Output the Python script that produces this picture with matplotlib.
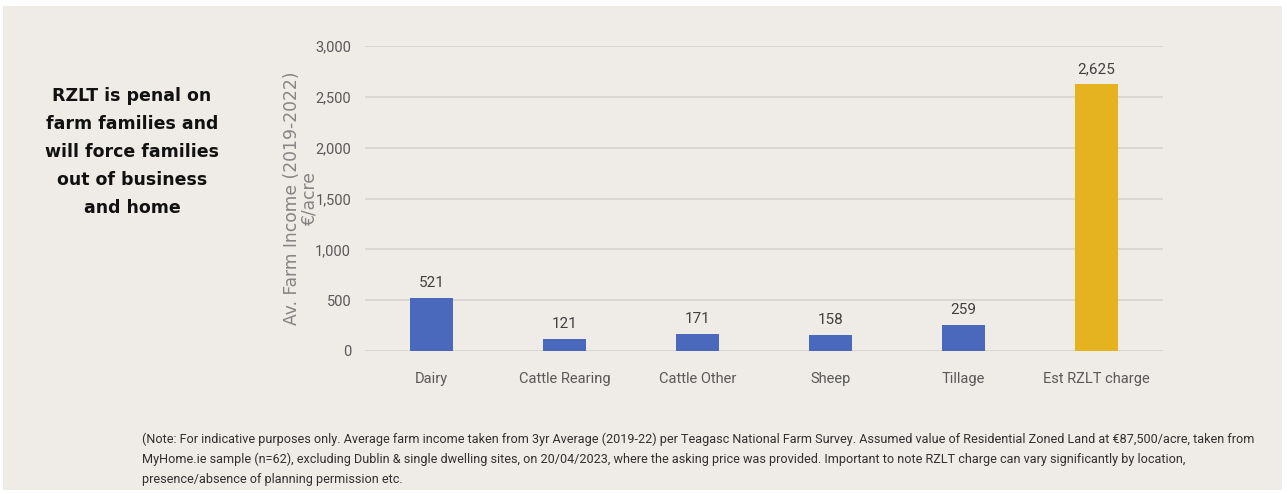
import matplotlib.pyplot as plt
from matplotlib.patches import Rectangle
from matplotlib.ticker import FuncFormatter

categories = ["Dairy", "Cattle Rearing", "Cattle Other", "Sheep", "Tillage", "Est RZLT charge"]
values = [521, 121, 171, 158, 259, 2625]
bar_colors = ["#4a69bd", "#4a69bd", "#4a69bd", "#4a69bd", "#4a69bd", "#e6b320"]

headline = "RZLT is penal on\nfarm families and\nwill force families\nout of business\nand home"
note = ("(Note: For indicative purposes only. Average farm income taken from 3yr Average (2019-22) per Teagasc National Farm Survey. "
        "Assumed value of Residential Zoned Land at €87,500/acre, taken from\n"
        "MyHome.ie sample (n=62), excluding Dublin & single dwelling sites, on 20/04/2023, where the asking price was provided. "
        "Important to note RZLT charge can vary significantly by location,\n"
        "presence/absence of planning permission etc.")

plt.rcParams["font.family"] = ["Roboto", "DejaVu Sans"]
bg = "#efebe7"

fig = plt.figure(figsize=(12.87, 4.93), dpi=100, facecolor="white")
fig.patches.append(Rectangle((3 / 1287, 3 / 493), 1279 / 1287, 484 / 493,
                             transform=fig.transFigure, facecolor=bg, edgecolor="none", zorder=-5))

ax = fig.add_axes([365 / 1287, 1 - 351 / 493, 798 / 1287, 305 / 493])
ax.set_zorder(2)
ax.patch.set_alpha(0)

x = range(len(categories))
bars = ax.bar(x, values, width=0.32, color=bar_colors, zorder=3)
for xi, v in zip(x, values):
    ax.text(xi, v + 75, f"{v:,}", ha="center", va="bottom", fontsize=11, color="#404040")

ax.set_ylim(0, 3000)
ax.set_xlim(-0.5, len(categories) - 0.5)
ax.set_yticks(range(0, 3001, 500))
ax.yaxis.set_major_formatter(FuncFormatter(lambda v, p: f"{int(v):,}"))
ax.set_xticks(list(x))
ax.set_xticklabels(categories)
ax.tick_params(axis="both", length=0, labelsize=10.5, colors="#595959")
ax.tick_params(axis="y", pad=10)
ax.tick_params(axis="x", pad=15)
ax.grid(axis="y", color="#d6d3d0", linewidth=1.2, zorder=0)
for s in ax.spines.values():
    s.set_visible(False)

ax.set_ylabel("Av. Farm Income (2019-2022)\n€/acre", fontsize=12.3, color="#858585",
              family=["DejaVu Sans"], linespacing=0.95)
ax.yaxis.set_label_coords(-0.058, 0.5)

fig.text(132 / 1287, 1 - 152 / 493, headline, ha="center", va="center", fontsize=12.5,
         fontweight="bold", color="#111111", linespacing=1.72, family=["DejaVu Sans"])

fig.text(142 / 1287, 1 - 459 / 493, note, ha="left", va="center", fontsize=9.1,
         color="#303030", linespacing=1.65)

fig.savefig("out.png", dpi=100, facecolor="white")
